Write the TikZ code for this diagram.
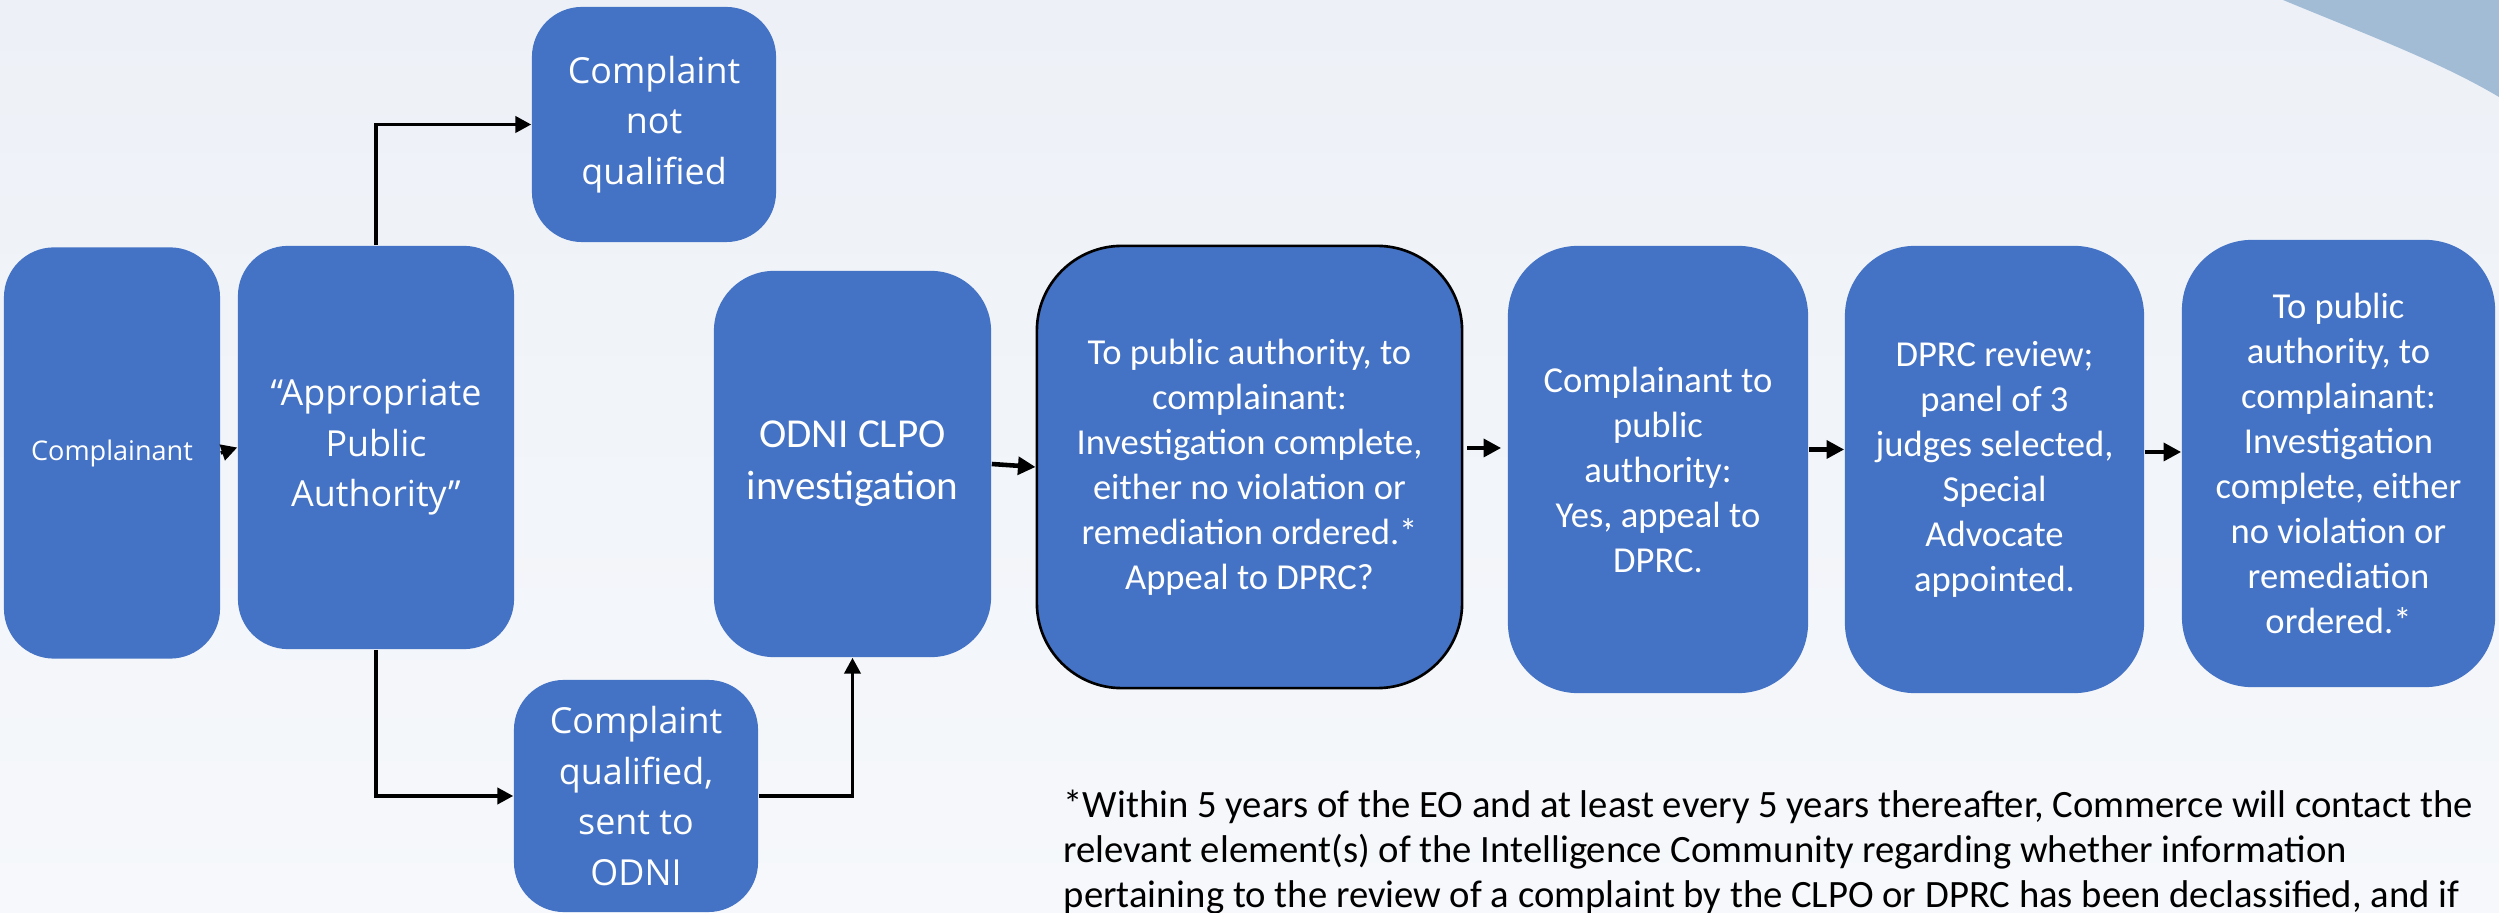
\documentclass[tikz,border=0pt]{standalone}
\usepackage{fontspec}
\setmainfont{Carlito}
\newfontfamily\segoe{Open Sans}
\usetikzlibrary{positioning}
\usetikzlibrary{arrows.meta}
\definecolor{boxblue}{HTML}{4472C4}
\definecolor{swoosh}{HTML}{A3BCD6}
\definecolor{bgtop}{HTML}{EDF1F7}
\definecolor{bgbot}{HTML}{F6F8FB}
\tikzset{flowbox/.style={fill=boxblue, text=white, align=center, inner sep=0pt,
rounded corners=0.65cm, font=\fontsize{10.4}{12.8}\selectfont},
leftbox/.style={flowbox, rounded corners=0.5cm, font=\segoe\fontsize{10.2}{14.4}\selectfont}}
\begin{document}
\begin{tikzpicture}[x=0.01cm, y=-0.01cm, arr/.style={-{Triangle[length=4.5pt,width=4.6pt]}, line width=0.95pt},
	thickarr/.style={-{Triangle[length=5pt,width=5pt]}, line width=1.3pt}]
	\useasboundingbox (0,0) rectangle (2499,913);
	\shade[top color=bgtop, bottom color=bgbot] (0,0) rectangle (2499,913);
	\fill[swoosh] (2283,0) .. controls (2370,36) and (2440,62) .. (2499,97) -- (2499,0) -- cycle;
	% left part
	\node[leftbox, minimum width=2.16cm, minimum height=4.11cm, font=\segoe\fontsize{7.7}{9}\selectfont] (compl) at (112,453) {Complainant};
	\node[leftbox, minimum width=2.76cm, minimum height=4.03cm] (apa) at (376,447.5) {“Appropriate\\Public\\Authority”};
	\node[leftbox, minimum width=2.44cm, minimum height=2.35cm] (notq) at (654,124.5) {Complaint\\not\\qualified};
	\node[leftbox, minimum width=2.44cm, minimum height=2.32cm] (qual) at (636,796) {Complaint\\qualified,\\sent to\\ODNI};
	% right part
	\node[flowbox, minimum width=2.77cm, minimum height=3.86cm, rounded corners=0.6cm, font=\fontsize{11.7}{14.7}\selectfont] (odni) at (852.5,464) {ODNI CLPO\\investigation};
	\node[flowbox, draw=black, line width=0.75pt, minimum width=4.25cm, minimum height=4.42cm, rounded corners=0.85cm] (appeal) at (1249.5,467) {To public authority, to\\complainant:\\Investigation complete,\\either no violation or\\remediation ordered.*\\Appeal to DPRC?};
	\node[flowbox, minimum width=3cm, minimum height=4.47cm, rounded corners=0.7cm] (yes) at (1658,469.5) {Complainant to\\public\\authority:\\Yes, appeal to\\DPRC.};
	\node[flowbox, minimum width=2.99cm, minimum height=4.47cm, rounded corners=0.7cm] (dprc) at (1994.5,469.5) {DPRC review;\\panel of 3\\judges selected,\\Special\\Advocate\\appointed.};
	\node[flowbox, minimum width=3.13cm, minimum height=4.47cm, rounded corners=0.7cm] (final) at (2338.5,463.5) {To public\\authority, to\\complainant:\\Investigation\\complete, either\\no violation or\\remediation\\ordered.*};
	\node[anchor=west, align=left, inner sep=0pt, font=\fontsize{11}{12.9}\selectfont] (note) at (1063,852) {*Within 5 years of the EO and at least every 5 years thereafter, Commerce will contact the\\relevant element(s) of the Intelligence Community regarding whether information\\pertaining to the review of a complaint by the CLPO or DPRC has been declassified, and if};
	% connectors
	\draw[arr] (compl.east) -- (apa.west);
	\draw[arr] (apa.north) |- (notq.west);
	\draw[arr] (apa.south) |- (qual.west);
	\draw[arr] (qual.east) -| (odni.south);
	\draw[thickarr] (odni.east) -- (appeal.west);
	\draw[thickarr, shorten <=0.04cm, shorten >=0.06cm] ([yshift=0.19cm]appeal.east) -- ([yshift=0.19cm]appeal.east -| yes.west);
	\draw[thickarr] ([yshift=0.2cm]yes.east) -- ([yshift=0.2cm]yes.east -| dprc.west);
	\draw[thickarr] ([yshift=0.175cm]dprc.east) -- ([yshift=0.175cm]dprc.east -| final.west);
\end{tikzpicture}
\end{document}
